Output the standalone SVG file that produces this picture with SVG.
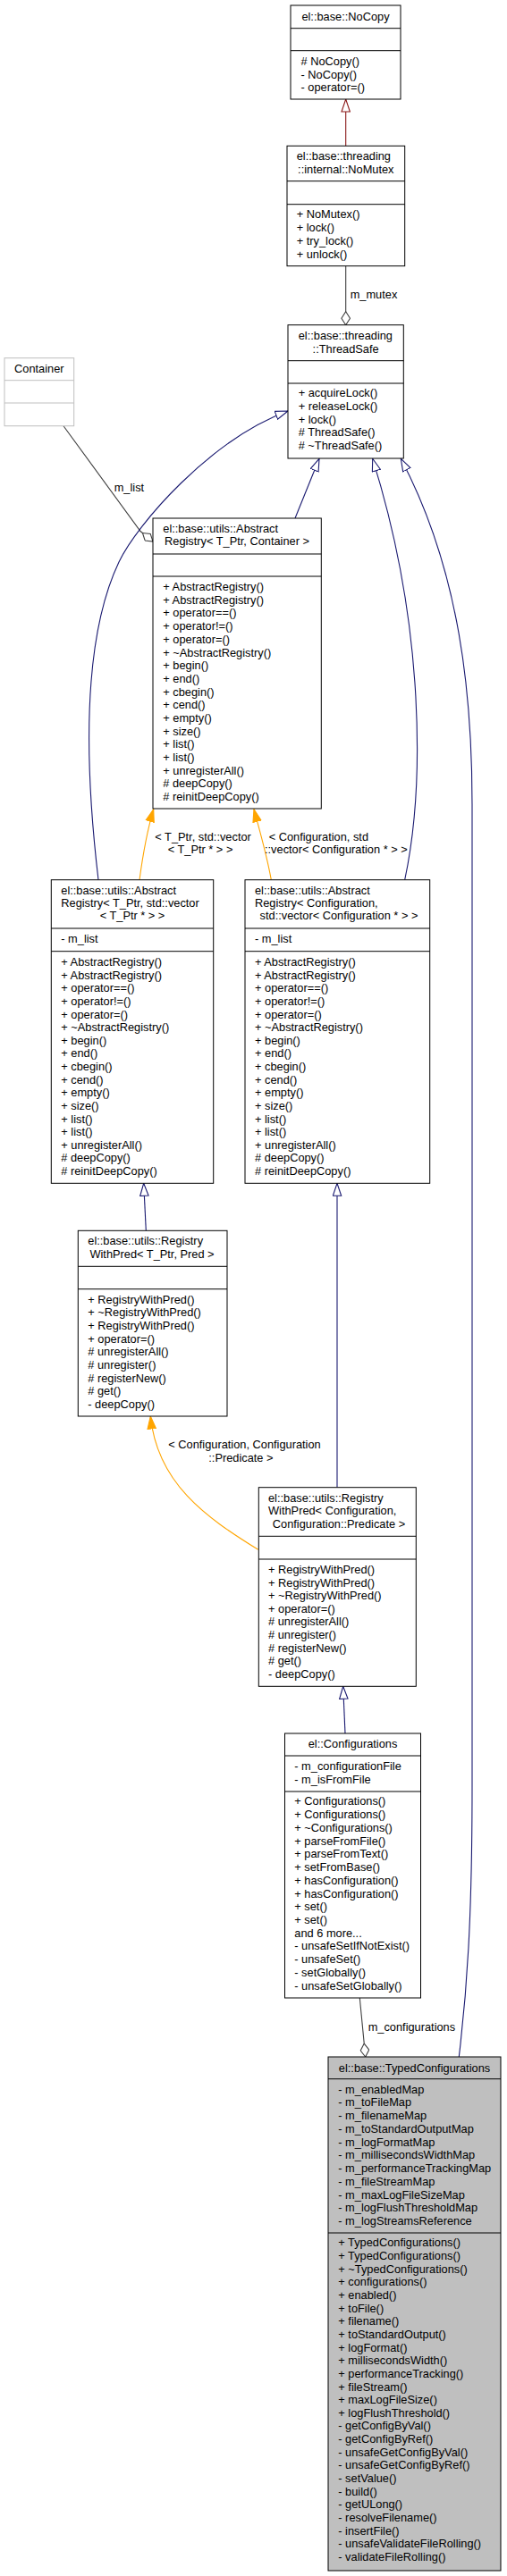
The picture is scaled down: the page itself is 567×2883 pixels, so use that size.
<svg xmlns="http://www.w3.org/2000/svg" width="567" height="2883" viewBox="0 0 567 2883">
<style>
.box{fill:#fff;stroke:#000;stroke-width:1}
.ext{fill:#fff;stroke:#bfbfbf;stroke-width:1}
.grey{fill:#bfbfbf;stroke:#000;stroke-width:1}
.sep{stroke:#000;stroke-width:1}
.sepx{stroke:#bfbfbf;stroke-width:1}
.t{font-family:"Liberation Sans",Arial,Helvetica,sans-serif;font-size:12.8px;fill:#000}
.c{text-anchor:middle}
.inh{fill:none;stroke:#191970;stroke-width:1.1;marker-end:url(#triBlue)}
.priv{fill:none;stroke:#8b1a1a;stroke-width:1.1;marker-end:url(#triRed)}
.tmpl{fill:none;stroke:#ffa500;stroke-width:1.1;marker-end:url(#triOrange)}
.agg{fill:none;stroke:#404040;stroke-width:1.1;marker-end:url(#diamond)}
</style>
<defs>
<marker id="triBlue" viewBox="0 0 15 11" refX="14.5" refY="5.5" markerWidth="15" markerHeight="11" markerUnits="userSpaceOnUse" orient="auto">
<path d="M0.5,0.8 L14.5,5.5 L0.5,10.2 z" fill="#fff" stroke="#191970" stroke-width="1.1"/>
</marker>
<marker id="triRed" viewBox="0 0 15 11" refX="14.5" refY="5.5" markerWidth="15" markerHeight="11" markerUnits="userSpaceOnUse" orient="auto">
<path d="M0.5,0.8 L14.5,5.5 L0.5,10.2 z" fill="#fff" stroke="#8b1a1a" stroke-width="1.1"/>
</marker>
<marker id="triOrange" viewBox="0 0 15 11" refX="14.5" refY="5.5" markerWidth="15" markerHeight="11" markerUnits="userSpaceOnUse" orient="auto">
<path d="M0.5,0.8 L14.5,5.5 L0.5,10.2 z" fill="#ffa500" stroke="#ffa500" stroke-width="1.1"/>
</marker>
<marker id="diamond" viewBox="0 0 16 11" refX="15.5" refY="5.5" markerWidth="16" markerHeight="11" markerUnits="userSpaceOnUse" orient="auto">
<path d="M0.5,5.5 L8,0.7 L15.5,5.5 L8,10.3 z" fill="#fff" stroke="#404040" stroke-width="1.1"/>
</marker>
</defs>
<rect width="567" height="2883" fill="#fff"/>

<g id="connectors">
<path class="priv" d="M386.7,163.3 L386.7,111"/>
<path class="agg" d="M386.7,297.7 L386.7,363.7"/>
<text class="t" x="391.7" y="334.3">m_mutex</text>
<path class="agg" d="M71,476.7 L157,594.5 L171,606"/>
<text class="t" x="127.7" y="550">m_list</text>
<path class="inh" d="M330,580 L357,513.3"/>
<path class="inh" d="M110,984.7 C100,900 85,730 133,629 C153,587 235,492 322,460"/>
<path class="inh" d="M452.7,984.7 C475,880 475,700 416.7,513.3"/>
<path class="inh" d="M513.3,2302 C522,2230 528,2150 528,2000 L528,900 C528,780 515,640 448.3,513.3"/>
<path class="tmpl" d="M156,984.7 C160,955 166,925 171.7,905.7"/>
<text class="t" x="173.3" y="941">&lt; T_Ptr, std::vector</text>
<text class="t" x="187.7" y="955">&lt; T_Ptr * &gt; &gt;</text>
<path class="tmpl" d="M303.3,984.7 C298,955 289,925 284,905.7"/>
<text class="t" x="300.7" y="941">&lt; Configuration, std</text>
<text class="t" x="296" y="955">::vector&lt; Configuration * &gt; &gt;</text>
<path class="inh" d="M163.3,1377.3 L160.7,1324.3"/>
<path class="inh" d="M377,1664.7 L377,1324.3"/>
<path class="tmpl" d="M288.7,1734.3 C230,1698 176,1660 168.3,1585"/>
<text class="t" x="188.3" y="1621">&lt; Configuration, Configuration</text>
<text class="t" x="233.3" y="1636">::Predicate &gt;</text>
<path class="inh" d="M386,1940 L383.7,1887.3"/>
<path class="agg" d="M402.3,2236 L408.7,2302"/>
<text class="t" x="411.7" y="2272.6">m_configurations</text>
</g>

<g id="NoCopy">
<rect class="box" x="325" y="6" width="123" height="105"/>
<line class="sep" x1="325" y1="31.7" x2="448" y2="31.7"/>
<line class="sep" x1="325" y1="56.7" x2="448" y2="56.7"/>
<text class="t c" x="386.5" y="22.8">el::base::NoCopy</text>
<text class="t" x="336.5" y="73">
<tspan x="336.5" y="73"># NoCopy()</tspan>
<tspan x="336.5" y="87.5">- NoCopy()</tspan>
<tspan x="336.5" y="102">- operator=()</tspan>
</text>
</g>

<g id="NoMutex">
<rect class="box" x="321" y="163.3" width="131.7" height="134.4"/>
<line class="sep" x1="321" y1="202.7" x2="452.7" y2="202.7"/>
<line class="sep" x1="321" y1="228.7" x2="452.7" y2="228.7"/>
<text class="t" x="331.7" y="179">el::base::threading</text>
<text class="t c" x="386.8" y="194">::internal::NoMutex</text>
<text class="t">
<tspan x="331.7" y="244.3">+ NoMutex()</tspan>
<tspan x="331.7" y="259.1">+ lock()</tspan>
<tspan x="331.7" y="273.9">+ try_lock()</tspan>
<tspan x="331.7" y="288.7">+ unlock()</tspan>
</text>
</g>

<g id="ThreadSafe">
<rect class="box" x="322" y="363.7" width="129.3" height="149.3"/>
<line class="sep" x1="322" y1="403.7" x2="451.3" y2="403.7"/>
<line class="sep" x1="322" y1="429" x2="451.3" y2="429"/>
<text class="t" x="333.7" y="380">el::base::threading</text>
<text class="t c" x="386.6" y="395">::ThreadSafe</text>
<text class="t">
<tspan x="333.7" y="444.3">+ acquireLock()</tspan>
<tspan x="333.7" y="459">+ releaseLock()</tspan>
<tspan x="333.7" y="473.7"  >+ lock()</tspan>
<tspan x="333.7" y="488.4"># ThreadSafe()</tspan>
<tspan x="333.7" y="503.1"># ~ThreadSafe()</tspan>
</text>
</g>

<g id="Container">
<rect class="ext" x="5" y="400.7" width="77.7" height="76"/>
<line class="sepx" x1="5" y1="425.7" x2="82.7" y2="425.7"/>
<line class="sepx" x1="5" y1="451" x2="82.7" y2="451"/>
<text class="t c" x="43.8" y="417">Container</text>
</g>

<g id="AbstractRegistryContainer">
<rect class="box" x="171" y="580" width="188.3" height="325"/>
<line class="sep" x1="171" y1="620" x2="359.3" y2="620"/>
<line class="sep" x1="171" y1="645" x2="359.3" y2="645"/>
<text class="t" x="182.3" y="596">el::base::utils::Abstract</text>
<text class="t c" x="265" y="610.3">Registry&lt; T_Ptr, Container &gt;</text>
<text class="t">
<tspan x="182.3" y="661">+ AbstractRegistry()</tspan>
<tspan x="182.3" y="675.7">+ AbstractRegistry()</tspan>
<tspan x="182.3" y="690.4">+ operator==()</tspan>
<tspan x="182.3" y="705.1">+ operator!=()</tspan>
<tspan x="182.3" y="719.8">+ operator=()</tspan>
<tspan x="182.3" y="734.5">+ ~AbstractRegistry()</tspan>
<tspan x="182.3" y="749.1">+ begin()</tspan>
<tspan x="182.3" y="763.8">+ end()</tspan>
<tspan x="182.3" y="778.5">+ cbegin()</tspan>
<tspan x="182.3" y="793.2">+ cend()</tspan>
<tspan x="182.3" y="807.9">+ empty()</tspan>
<tspan x="182.3" y="822.6">+ size()</tspan>
<tspan x="182.3" y="837.3">+ list()</tspan>
<tspan x="182.3" y="852">+ list()</tspan>
<tspan x="182.3" y="866.7">+ unregisterAll()</tspan>
<tspan x="182.3" y="881.3"># deepCopy()</tspan>
<tspan x="182.3" y="896"># reinitDeepCopy()</tspan>
</text>
</g>

<g id="AbstractRegistryVector">
<rect class="box" x="57.3" y="984.7" width="181.4" height="339.6"/>
<line class="sep" x1="57.3" y1="1039" x2="238.7" y2="1039"/>
<line class="sep" x1="57.3" y1="1064.7" x2="238.7" y2="1064.7"/>
<text class="t" x="68.3" y="1001">el::base::utils::Abstract</text>
<text class="t" x="68.3" y="1015">Registry&lt; T_Ptr, std::vector</text>
<text class="t c" x="148" y="1029.3">&lt; T_Ptr * &gt; &gt;</text>
<text class="t" x="68.3" y="1055">- m_list</text>
<text class="t">
<tspan x="68.3" y="1081">+ AbstractRegistry()</tspan>
<tspan x="68.3" y="1095.6">+ AbstractRegistry()</tspan>
<tspan x="68.3" y="1110.3">+ operator==()</tspan>
<tspan x="68.3" y="1124.9">+ operator!=()</tspan>
<tspan x="68.3" y="1139.5">+ operator=()</tspan>
<tspan x="68.3" y="1154.1">+ ~AbstractRegistry()</tspan>
<tspan x="68.3" y="1168.8">+ begin()</tspan>
<tspan x="68.3" y="1183.4">+ end()</tspan>
<tspan x="68.3" y="1198">+ cbegin()</tspan>
<tspan x="68.3" y="1212.6">+ cend()</tspan>
<tspan x="68.3" y="1227.3">+ empty()</tspan>
<tspan x="68.3" y="1241.9">+ size()</tspan>
<tspan x="68.3" y="1256.5">+ list()</tspan>
<tspan x="68.3" y="1271.1">+ list()</tspan>
<tspan x="68.3" y="1285.8">+ unregisterAll()</tspan>
<tspan x="68.3" y="1300.4"># deepCopy()</tspan>
<tspan x="68.3" y="1315"># reinitDeepCopy()</tspan>
</text>
</g>

<g id="AbstractRegistryConfiguration">
<rect class="box" x="274" y="984.7" width="206.7" height="339.6"/>
<line class="sep" x1="274" y1="1039" x2="480.7" y2="1039"/>
<line class="sep" x1="274" y1="1064.7" x2="480.7" y2="1064.7"/>
<text class="t" x="285" y="1001">el::base::utils::Abstract</text>
<text class="t" x="285" y="1015">Registry&lt; Configuration,</text>
<text class="t c" x="379" y="1029.3">std::vector&lt; Configuration * &gt; &gt;</text>
<text class="t" x="285" y="1055">- m_list</text>
<text class="t">
<tspan x="285" y="1081">+ AbstractRegistry()</tspan>
<tspan x="285" y="1095.6">+ AbstractRegistry()</tspan>
<tspan x="285" y="1110.3">+ operator==()</tspan>
<tspan x="285" y="1124.9">+ operator!=()</tspan>
<tspan x="285" y="1139.5">+ operator=()</tspan>
<tspan x="285" y="1154.1">+ ~AbstractRegistry()</tspan>
<tspan x="285" y="1168.8">+ begin()</tspan>
<tspan x="285" y="1183.4">+ end()</tspan>
<tspan x="285" y="1198">+ cbegin()</tspan>
<tspan x="285" y="1212.6">+ cend()</tspan>
<tspan x="285" y="1227.3">+ empty()</tspan>
<tspan x="285" y="1241.9">+ size()</tspan>
<tspan x="285" y="1256.5">+ list()</tspan>
<tspan x="285" y="1271.1">+ list()</tspan>
<tspan x="285" y="1285.8">+ unregisterAll()</tspan>
<tspan x="285" y="1300.4"># deepCopy()</tspan>
<tspan x="285" y="1315"># reinitDeepCopy()</tspan>
</text>
</g>

<g id="RegistryWithPredGeneric">
<rect class="box" x="87.3" y="1377.3" width="166.7" height="207.7"/>
<line class="sep" x1="87.3" y1="1417.3" x2="254" y2="1417.3"/>
<line class="sep" x1="87.3" y1="1442.7" x2="254" y2="1442.7"/>
<text class="t" x="98.3" y="1393.3">el::base::utils::Registry</text>
<text class="t c" x="170" y="1407.6">WithPred&lt; T_Ptr, Pred &gt;</text>
<text class="t">
<tspan x="98.3" y="1458.6">+ RegistryWithPred()</tspan>
<tspan x="98.3" y="1473.3">+ ~RegistryWithPred()</tspan>
<tspan x="98.3" y="1487.9">+ RegistryWithPred()</tspan>
<tspan x="98.3" y="1502.6">+ operator=()</tspan>
<tspan x="98.3" y="1517.3"># unregisterAll()</tspan>
<tspan x="98.3" y="1532"># unregister()</tspan>
<tspan x="98.3" y="1546.7"># registerNew()</tspan>
<tspan x="98.3" y="1561.3"># get()</tspan>
<tspan x="98.3" y="1576">- deepCopy()</tspan>
</text>
</g>

<g id="RegistryWithPredConfiguration">
<rect class="box" x="289.3" y="1664.7" width="176" height="222.6"/>
<line class="sep" x1="289.3" y1="1719.3" x2="465.3" y2="1719.3"/>
<line class="sep" x1="289.3" y1="1745" x2="465.3" y2="1745"/>
<text class="t" x="300" y="1681">el::base::utils::Registry</text>
<text class="t" x="300" y="1695">WithPred&lt; Configuration,</text>
<text class="t c" x="379" y="1709.6">Configuration::Predicate &gt;</text>
<text class="t">
<tspan x="300" y="1761">+ RegistryWithPred()</tspan>
<tspan x="300" y="1775.6">+ RegistryWithPred()</tspan>
<tspan x="300" y="1790.2">+ ~RegistryWithPred()</tspan>
<tspan x="300" y="1804.7">+ operator=()</tspan>
<tspan x="300" y="1819.3"># unregisterAll()</tspan>
<tspan x="300" y="1833.9"># unregister()</tspan>
<tspan x="300" y="1848.5"># registerNew()</tspan>
<tspan x="300" y="1863.1"># get()</tspan>
<tspan x="300" y="1877.6">- deepCopy()</tspan>
</text>
</g>

<g id="Configurations">
<rect class="box" x="318.5" y="1940" width="152" height="296"/>
<line class="sep" x1="318.5" y1="1965" x2="470.5" y2="1965"/>
<line class="sep" x1="318.5" y1="2005" x2="470.5" y2="2005"/>
<text class="t c" x="394.5" y="1956.3">el::Configurations</text>
<text class="t">
<tspan x="329.3" y="1981">- m_configurationFile</tspan>
<tspan x="329.3" y="1996">- m_isFromFile</tspan>
</text>
<text class="t">
<tspan x="329.3" y="2020.3">+ Configurations()</tspan>
<tspan x="329.3" y="2035">+ Configurations()</tspan>
<tspan x="329.3" y="2049.8">+ ~Configurations()</tspan>
<tspan x="329.3" y="2064.5">+ parseFromFile()</tspan>
<tspan x="329.3" y="2079.3">+ parseFromText()</tspan>
<tspan x="329.3" y="2094">+ setFromBase()</tspan>
<tspan x="329.3" y="2108.7">+ hasConfiguration()</tspan>
<tspan x="329.3" y="2123.5">+ hasConfiguration()</tspan>
<tspan x="329.3" y="2138.2">+ set()</tspan>
<tspan x="329.3" y="2153">+ set()</tspan>
<tspan x="329.3" y="2167.7">and 6 more...</tspan>
<tspan x="329.3" y="2182.4">- unsafeSetIfNotExist()</tspan>
<tspan x="329.3" y="2197.2">- unsafeSet()</tspan>
<tspan x="329.3" y="2211.9">- setGlobally()</tspan>
<tspan x="329.3" y="2226.7">- unsafeSetGlobally()</tspan>
</text>
</g>

<g id="TypedConfigurations">
<rect class="grey" x="367" y="2302" width="193" height="575"/>
<line class="sep" x1="367" y1="2326.7" x2="560" y2="2326.7"/>
<line class="sep" x1="367" y1="2499" x2="560" y2="2499"/>
<text class="t c" x="463.5" y="2318.5">el::base::TypedConfigurations</text>
<text class="t">
<tspan x="378.3" y="2342.6">- m_enabledMap</tspan>
<tspan x="378.3" y="2357.3">- m_toFileMap</tspan>
<tspan x="378.3" y="2372.1">- m_filenameMap</tspan>
<tspan x="378.3" y="2386.8">- m_toStandardOutputMap</tspan>
<tspan x="378.3" y="2401.6">- m_logFormatMap</tspan>
<tspan x="378.3" y="2416.3">- m_millisecondsWidthMap</tspan>
<tspan x="378.3" y="2431">- m_performanceTrackingMap</tspan>
<tspan x="378.3" y="2445.8">- m_fileStreamMap</tspan>
<tspan x="378.3" y="2460.5">- m_maxLogFileSizeMap</tspan>
<tspan x="378.3" y="2475.3">- m_logFlushThresholdMap</tspan>
<tspan x="378.3" y="2490">- m_logStreamsReference</tspan>
</text>
<text class="t">
<tspan x="378.3" y="2514.3">+ TypedConfigurations()</tspan>
<tspan x="378.3" y="2529">+ TypedConfigurations()</tspan>
<tspan x="378.3" y="2543.6">+ ~TypedConfigurations()</tspan>
<tspan x="378.3" y="2558.3">+ configurations()</tspan>
<tspan x="378.3" y="2572.9">+ enabled()</tspan>
<tspan x="378.3" y="2587.6">+ toFile()</tspan>
<tspan x="378.3" y="2602.2">+ filename()</tspan>
<tspan x="378.3" y="2616.9">+ toStandardOutput()</tspan>
<tspan x="378.3" y="2631.5">+ logFormat()</tspan>
<tspan x="378.3" y="2646.2">+ millisecondsWidth()</tspan>
<tspan x="378.3" y="2660.8">+ performanceTracking()</tspan>
<tspan x="378.3" y="2675.5">+ fileStream()</tspan>
<tspan x="378.3" y="2690.1">+ maxLogFileSize()</tspan>
<tspan x="378.3" y="2704.8">+ logFlushThreshold()</tspan>
<tspan x="378.3" y="2719.4">- getConfigByVal()</tspan>
<tspan x="378.3" y="2734.1">- getConfigByRef()</tspan>
<tspan x="378.3" y="2748.7">- unsafeGetConfigByVal()</tspan>
<tspan x="378.3" y="2763.4">- unsafeGetConfigByRef()</tspan>
<tspan x="378.3" y="2778">- setValue()</tspan>
<tspan x="378.3" y="2792.7">- build()</tspan>
<tspan x="378.3" y="2807.3">- getULong()</tspan>
<tspan x="378.3" y="2822">- resolveFilename()</tspan>
<tspan x="378.3" y="2836.6">- insertFile()</tspan>
<tspan x="378.3" y="2851.3">- unsafeValidateFileRolling()</tspan>
<tspan x="378.3" y="2865.9">- validateFileRolling()</tspan>
</text>
</g>
</svg>
